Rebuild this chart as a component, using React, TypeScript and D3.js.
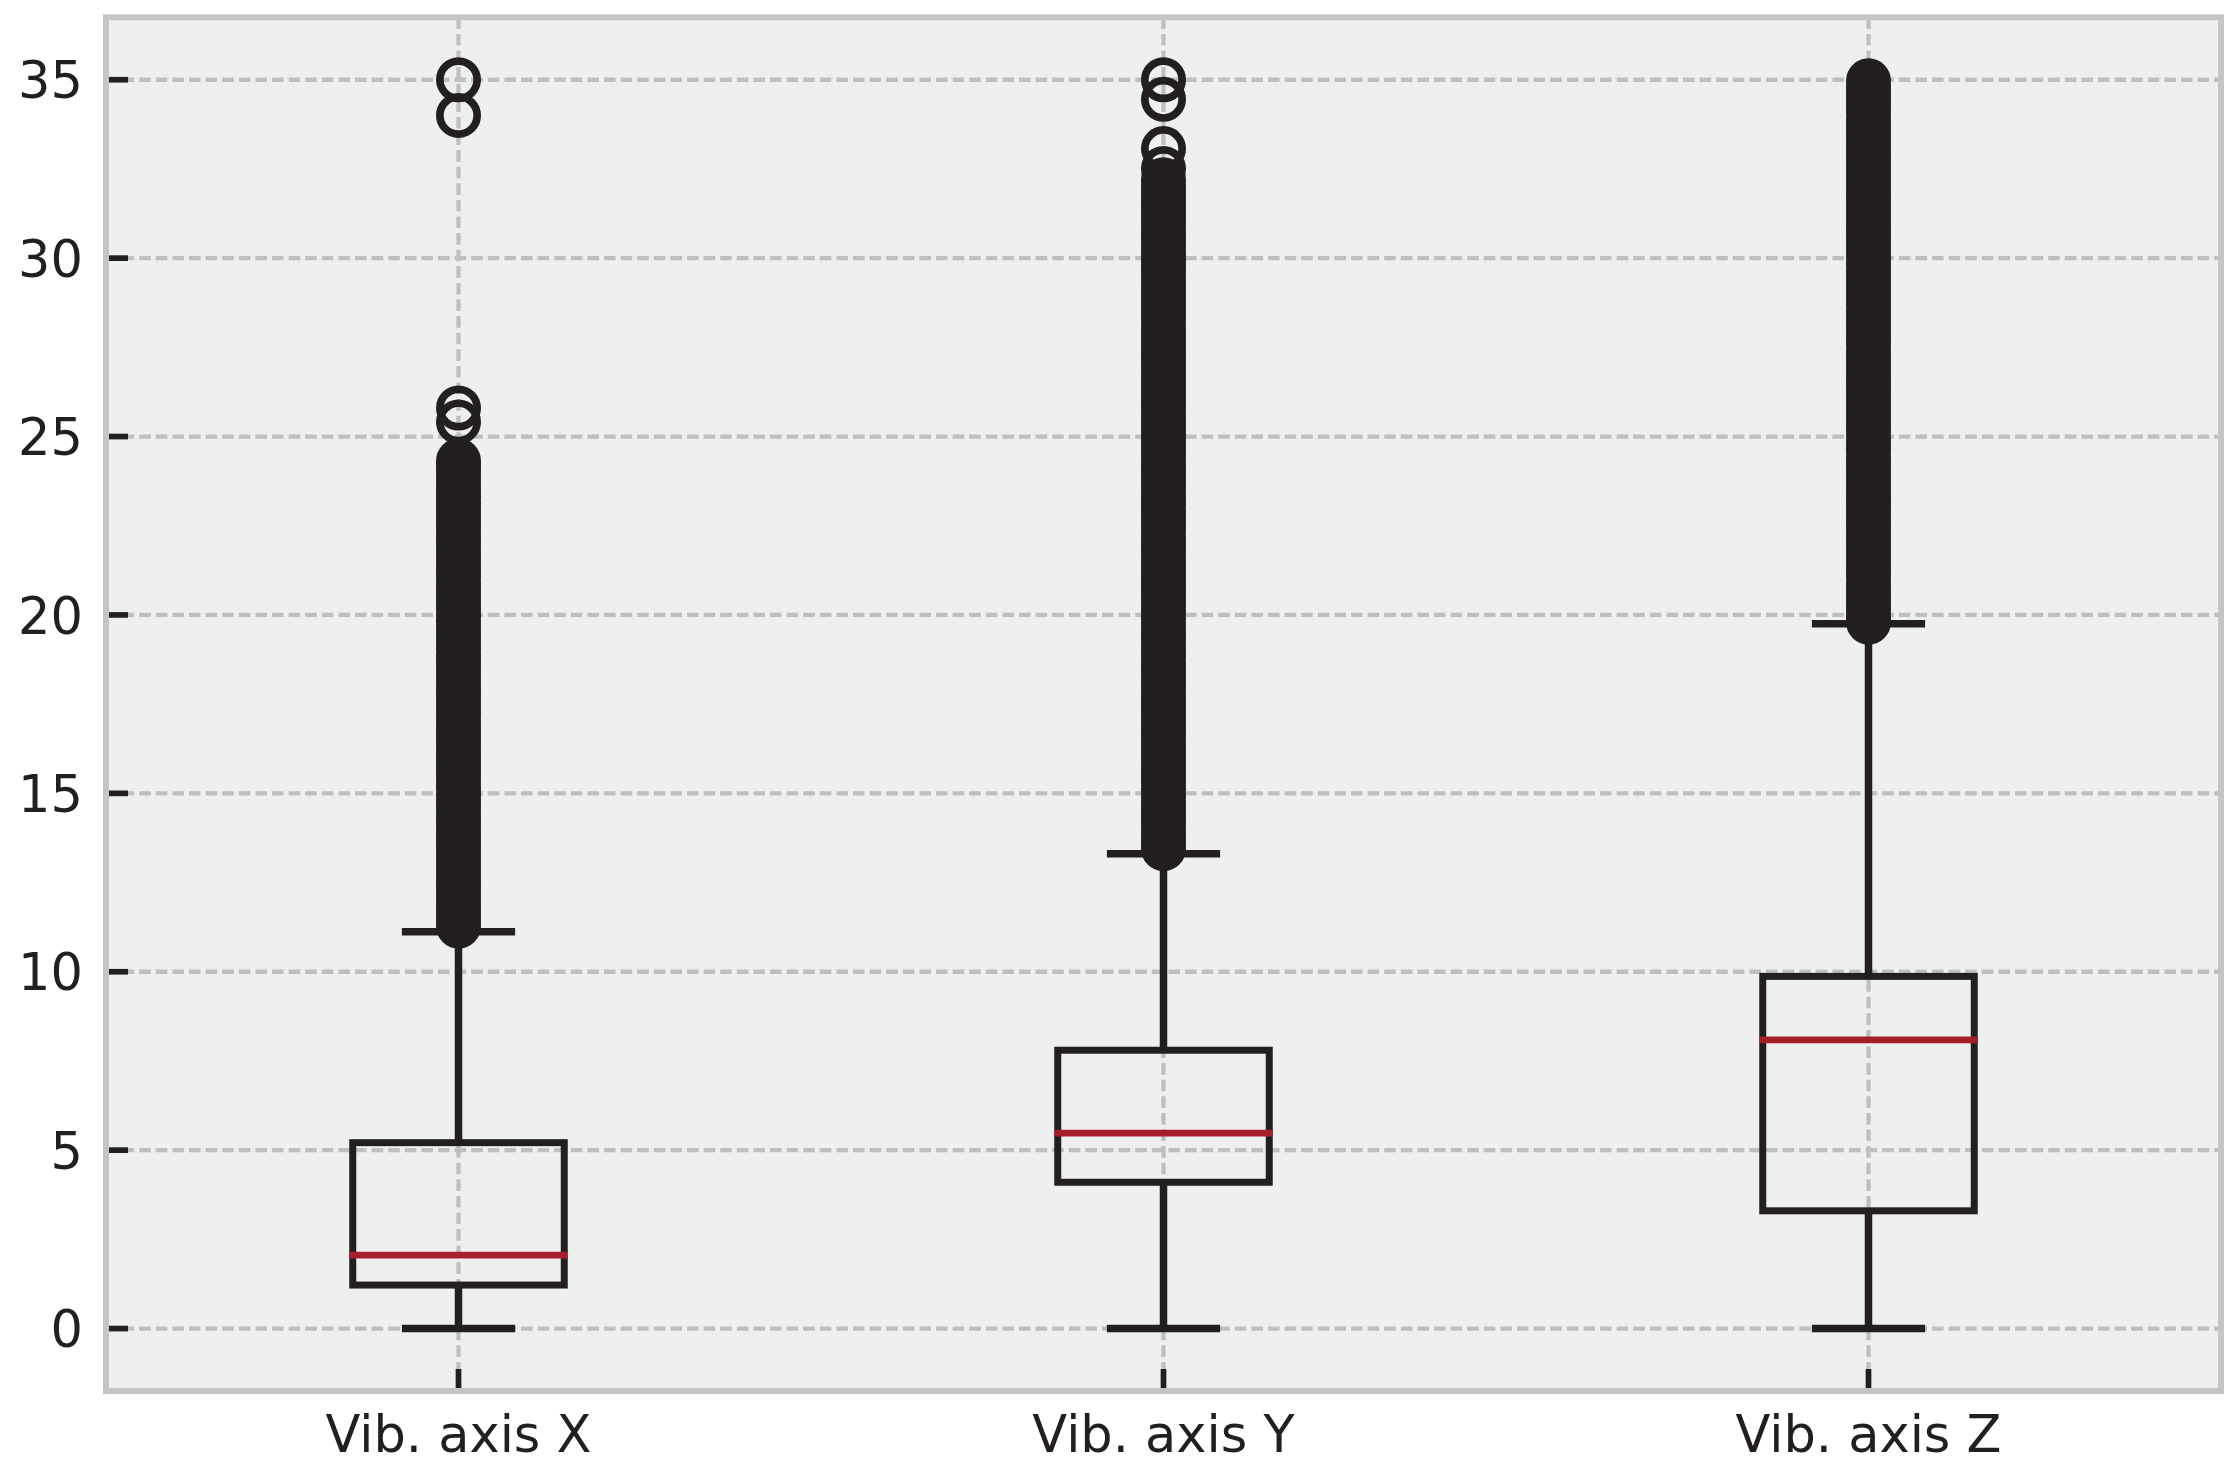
import React from "react";
import * as d3 from "d3";

const categories = ["Vib. axis X", "Vib. axis Y", "Vib. axis Z"];
const q1 = [1.22, 4.1, 3.3];
const medians = [2.06, 5.48, 8.09];
const q3 = [5.21, 7.8, 9.87];
const whiskerLow = [0, 0, 0];
const whiskerHigh = [11.12, 13.31, 19.75];

const fliersX = [
  11.28, 11.45, 11.63, 11.8, 12.0, 12.18, 12.37, 12.55, 12.74, 12.92, 13.1, 13.3, 13.48, 13.66, 13.85, 14.03,
  14.22, 14.4, 14.6, 14.78, 14.96, 15.15, 15.33, 15.52, 15.7, 15.9, 16.08, 16.26, 16.45, 16.63, 16.82, 17.0,
  17.2, 17.38, 17.56, 17.75, 17.93, 18.12, 18.3, 18.5, 18.68, 18.86, 19.05, 19.23, 19.42, 19.6, 19.8, 19.98,
  20.16, 20.35, 20.53, 20.72, 20.9, 21.1, 21.28, 21.46, 21.65, 21.83, 22.02, 22.2, 22.4, 22.58, 22.76, 22.95,
  23.13, 23.32, 23.5, 23.7, 23.88, 24.06, 24.2, 24.32, 25.41, 25.8, 34.0, 35.0,
];
const fliersY = [
  13.45, 13.62, 13.8, 14.0, 14.18, 14.36, 14.55, 14.73, 14.92, 15.1, 15.3, 15.48, 15.66, 15.85, 16.03, 16.22,
  16.4, 16.6, 16.78, 16.96, 17.15, 17.33, 17.52, 17.7, 17.9, 18.08, 18.26, 18.45, 18.63, 18.82, 19.0, 19.2,
  19.38, 19.56, 19.75, 19.93, 20.12, 20.3, 20.5, 20.68, 20.86, 21.05, 21.23, 21.42, 21.6, 21.8, 21.98, 22.16,
  22.35, 22.53, 22.72, 22.9, 23.1, 23.28, 23.46, 23.65, 23.83, 24.02, 24.2, 24.4, 24.58, 24.76, 24.95, 25.13,
  25.32, 25.5, 25.7, 25.88, 26.06, 26.25, 26.43, 26.62, 26.8, 27.0, 27.18, 27.36, 27.55, 27.73, 27.92, 28.1,
  28.3, 28.48, 28.66, 28.85, 29.03, 29.22, 29.4, 29.6, 29.78, 29.96, 30.15, 30.33, 30.52, 30.7, 30.9, 31.08,
  31.26, 31.45, 31.63, 31.82, 32.0, 32.2, 32.51, 33.07, 34.45, 35.0,
];
const fliersZ = [
  19.8, 19.98, 20.16, 20.35, 20.53, 20.72, 20.9, 21.1, 21.28, 21.46, 21.65, 21.83, 22.02, 22.2, 22.4, 22.58,
  22.76, 22.95, 23.13, 23.32, 23.5, 23.7, 23.88, 24.06, 24.25, 24.43, 24.62, 24.8, 25.0, 25.18, 25.36, 25.55,
  25.73, 25.92, 26.1, 26.3, 26.48, 26.66, 26.85, 27.03, 27.22, 27.4, 27.6, 27.78, 27.96, 28.15, 28.33, 28.52,
  28.7, 28.9, 29.08, 29.26, 29.45, 29.63, 29.82, 30.0, 30.2, 30.38, 30.56, 30.75, 30.93, 31.12, 31.3, 31.5,
  31.68, 31.86, 32.05, 32.23, 32.42, 32.6, 32.8, 32.98, 33.16, 33.35, 33.53, 33.72, 33.9, 34.1, 34.28, 34.46,
  34.62, 34.8, 34.97,
];
const fliers = [fliersX, fliersY, fliersZ];
const yTicks = [0, 5, 10, 15, 20, 25, 30, 35];

const W = 2238;
const H = 1473;
const LEFT = 106;
const RIGHT = 2221;
const TOP = 17.3;
const BOTTOM = 1391;

const INK = "#231f20";
const MEDIAN = "#a61e2d";
const GRID = "#bebfc1";
const SPINE = "#c4c5c7";
const BG = "#eef0ef";
const FONT = "'DejaVu Sans', sans-serif";
const FS = 51;

export default function App() {
  const x = d3.scalePoint<string>().domain(categories).range([LEFT, RIGHT]).padding(0.5);
  const y = d3.scaleLinear().domain([-1.75, 36.75]).range([BOTTOM, TOP]);
  const step = x.step();
  const boxHalf = 0.15 * step;
  const capHalf = 0.075 * step;

  return (
    <svg
      width={W}
      height={H}
      viewBox={`0 0 ${W} ${H}`}
      style={{ position: "absolute", left: 0, top: 0, background: "#ffffff" }}
    >
      <rect x={0} y={0} width={W} height={H} fill="#ffffff" />
      <rect x={LEFT} y={TOP} width={RIGHT - LEFT} height={BOTTOM - TOP} fill={BG} />

      {/* grid */}
      <g stroke={GRID} strokeWidth={4.3} strokeDasharray="11.6 5" fill="none">
        {yTicks.map((t) => (
          <line key={"gy" + t} x1={LEFT} x2={RIGHT} y1={y(t)} y2={y(t)} />
        ))}
        {categories.map((c) => (
          <line key={"gx" + c} x1={x(c)} x2={x(c)} y1={TOP} y2={BOTTOM} />
        ))}
      </g>

      {/* boxes */}
      {categories.map((c, i) => {
        const cx = x(c) as number;
        return (
          <g key={"box" + c}>
            <line x1={cx} x2={cx} y1={y(q3[i])} y2={y(whiskerHigh[i])} stroke={INK} strokeWidth={7.5} />
            <line x1={cx} x2={cx} y1={y(q1[i])} y2={y(whiskerLow[i])} stroke={INK} strokeWidth={7.5} />
            <line
              x1={cx - capHalf}
              x2={cx + capHalf}
              y1={y(whiskerHigh[i])}
              y2={y(whiskerHigh[i])}
              stroke={INK}
              strokeWidth={7.5}
              strokeLinecap="square"
            />
            <line
              x1={cx - capHalf}
              x2={cx + capHalf}
              y1={y(whiskerLow[i])}
              y2={y(whiskerLow[i])}
              stroke={INK}
              strokeWidth={7.5}
              strokeLinecap="square"
            />
            <rect
              x={cx - boxHalf}
              y={y(q3[i])}
              width={2 * boxHalf}
              height={y(q1[i]) - y(q3[i])}
              fill="none"
              stroke={INK}
              strokeWidth={7}
              strokeLinejoin="miter"
            />
            <line
              x1={cx - boxHalf}
              x2={cx + boxHalf}
              y1={y(medians[i])}
              y2={y(medians[i])}
              stroke={MEDIAN}
              strokeWidth={6.7}
              strokeLinecap="square"
            />
            {fliers[i].map((v, j) => (
              <circle key={j} cx={cx} cy={y(v)} r={18.65} fill="none" stroke={INK} strokeWidth={7.7} />
            ))}
          </g>
        );
      })}

      {/* ticks */}
      <g stroke={INK} strokeWidth={5.7}>
        {yTicks.map((t) => (
          <line key={"ty" + t} x1={LEFT} x2={LEFT + 22} y1={y(t)} y2={y(t)} />
        ))}
        {categories.map((c) => (
          <line key={"tx" + c} x1={x(c)} x2={x(c)} y1={BOTTOM} y2={BOTTOM - 22} />
        ))}
      </g>

      {/* spines */}
      <rect
        x={LEFT}
        y={TOP}
        width={RIGHT - LEFT}
        height={BOTTOM - TOP}
        fill="none"
        stroke={SPINE}
        strokeWidth={6}
      />

      {/* tick labels */}
      <g fill={INK} fontFamily={FONT} fontSize={FS}>
        {yTicks.map((t) => (
          <text key={"ly" + t} x={83} y={y(t) + 0.729 * FS * 0.5} textAnchor="end">
            {t}
          </text>
        ))}
        {categories.map((c) => (
          <text key={"lx" + c} x={x(c)} y={1452} textAnchor="middle">
            {c}
          </text>
        ))}
      </g>
    </svg>
  );
}
